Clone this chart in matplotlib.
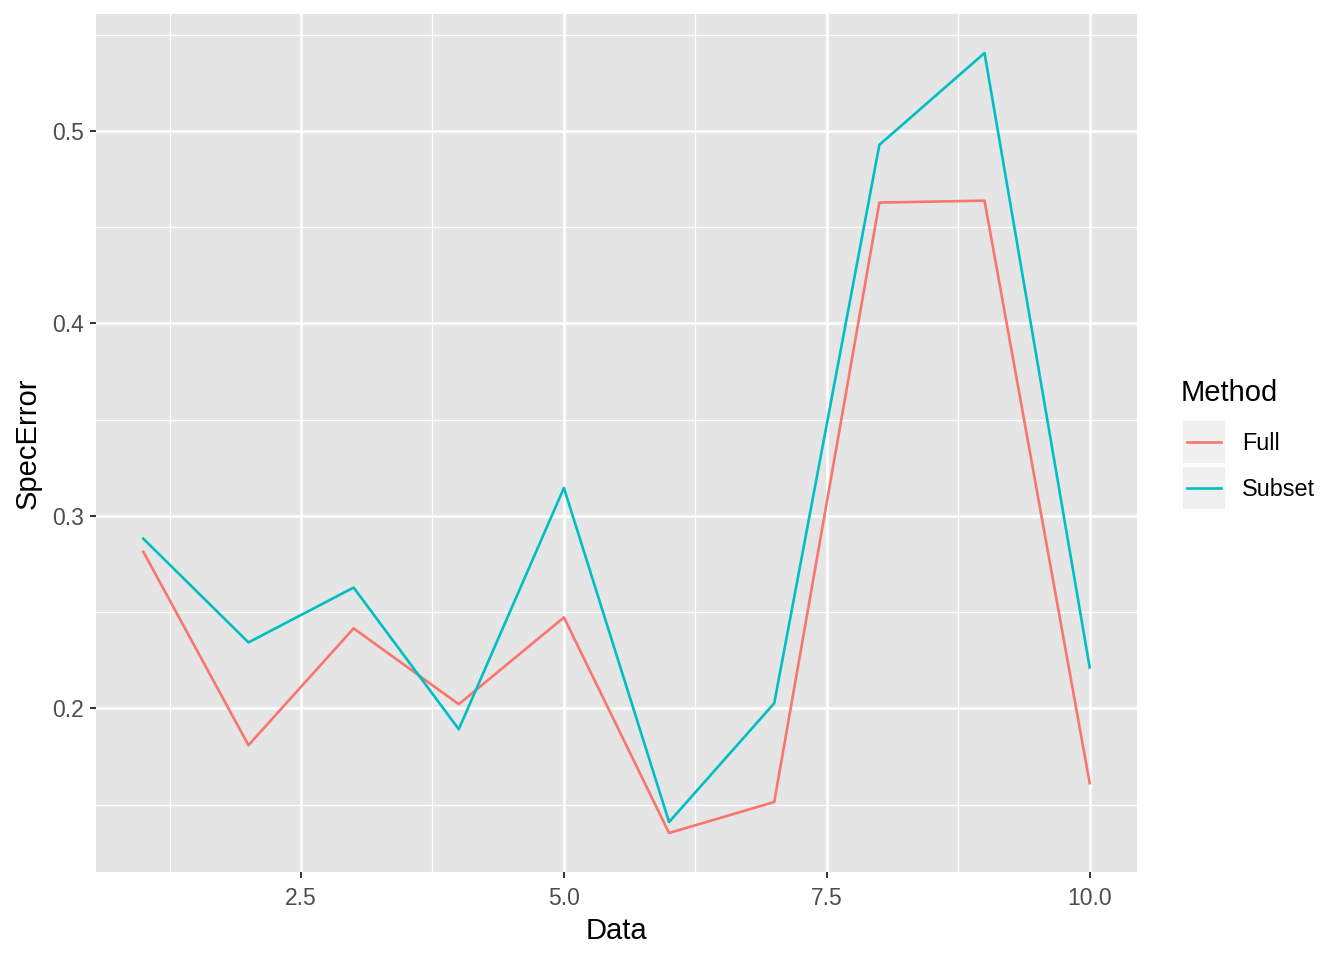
import matplotlib
matplotlib.use("Agg")
import matplotlib.pyplot as plt
from matplotlib.lines import Line2D
from matplotlib.patches import Rectangle
import numpy as np

plt.rcParams['font.family'] = ['Liberation Sans', 'DejaVu Sans']

# data
data = [1, 2, 3, 4, 5, 6, 7, 8, 9, 10]
full = [0.2813, 0.1808, 0.2415, 0.2021, 0.2472, 0.1352, 0.1513, 0.4627, 0.4637, 0.1611]
subset = [0.2881, 0.2342, 0.2627, 0.1891, 0.3145, 0.1409, 0.2026, 0.4927, 0.5404, 0.2212]
methods = ["Full", "Subset"]
colors = ["#F8766D", "#00BFC4"]

fig = plt.figure(figsize=(13.44, 9.6), dpi=100)
ax = fig.add_axes([96 / 1344, 88 / 960, (1137 - 96) / 1344, (872 - 14) / 960])
ax.set_facecolor("#E5E5E5")
for s in ax.spines.values():
    s.set_visible(False)

# ggplot-like expanded limits
ymin, ymax = min(full + subset), max(full + subset)
yr = ymax - ymin
ax.set_xlim(1 - 0.45, 10 + 0.45)
ax.set_ylim(ymin - 0.05 * yr, ymax + 0.05 * yr)

xt = [2.5, 5.0, 7.5, 10.0]
yt = [0.2, 0.3, 0.4, 0.5]
ax.set_xticks(xt)
ax.set_xticklabels(["2.5", "5.0", "7.5", "10.0"])
ax.set_yticks(yt)
ax.set_yticklabels(["0.2", "0.3", "0.4", "0.5"])
ax.set_xticks([1.25, 3.75, 6.25, 8.75], minor=True)
ax.set_yticks([0.15, 0.25, 0.35, 0.45, 0.55], minor=True)
ax.grid(True, which="major", color="white", linewidth=1.9)
ax.grid(True, which="minor", color="white", linewidth=0.9)
ax.set_axisbelow(True)
ax.tick_params(which="major", length=4.5, width=1.4, color="#333333",
               labelsize=16.5, labelcolor="#4D4D4D", pad=4)
ax.tick_params(axis="x", which="major", pad=6)
ax.tick_params(which="minor", length=0)

for vals, c in zip([full, subset], colors):
    ax.plot(data, vals, color=c, linewidth=1.9)

ax.set_xlabel("Data", fontsize=21, labelpad=5)
ax.set_ylabel("SpecError", fontsize=21, labelpad=8)

# legend drawn ggplot-style
fig.text(1181 / 1344, 1 - 393 / 960, "Method", fontsize=21, va="center", ha="left")
for i, (m, c) in enumerate(zip(methods, colors)):
    top = 421 + i * 46
    fig.patches.append(Rectangle((1183 / 1344, 1 - (top + 42) / 960), 42 / 1344, 42 / 960,
                                 transform=fig.transFigure, facecolor="#F0F0F0",
                                 edgecolor="none"))
    yc = 1 - (top + 21) / 960
    fig.lines.append(Line2D([1187 / 1344, 1221 / 1344], [yc, yc], color=c,
                            linewidth=1.9, transform=fig.transFigure))
    fig.text(1242 / 1344, yc - 2 / 960, m, fontsize=16.8, va="center", ha="left")

fig.savefig("out.png", dpi=100)
